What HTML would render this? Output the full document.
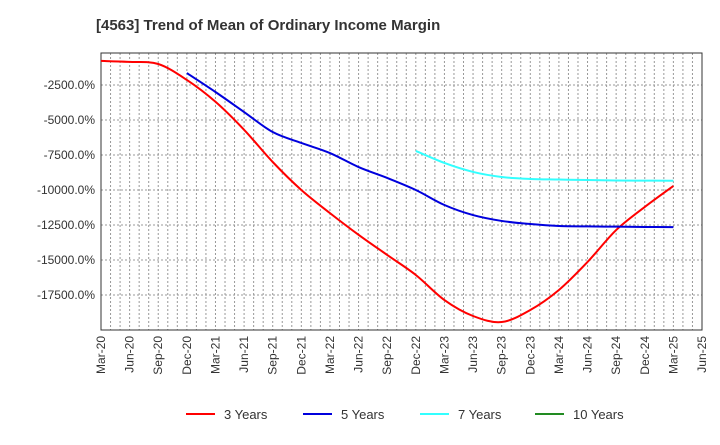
<!DOCTYPE html>
<html><head><meta charset="utf-8"><style>
body{margin:0;background:#fff;font-family:"Liberation Sans",sans-serif}
svg text{font-family:"Liberation Sans",sans-serif}
</style></head><body>
<svg id="c" width="720" height="440">
<text x="96" y="30" font-size="15" font-weight="bold" fill="#333">[4563]  Trend of Mean of Ordinary Income Margin</text>
<g id="grid"></g><g id="axes"></g><g id="series"></g><g id="legend"></g>
</svg>
<script>
const categories=["Mar-20","Jun-20","Sep-20","Dec-20","Mar-21","Jun-21","Sep-21","Dec-21","Mar-22","Jun-22","Sep-22","Dec-22","Mar-23","Jun-23","Sep-23","Dec-23","Mar-24","Jun-24","Sep-24","Dec-24","Mar-25","Jun-25"];
const yTicks=[-2500,-5000,-7500,-10000,-12500,-15000,-17500];
const s3=[-780,-850,-1000,-2140,-3700,-5700,-8000,-10000,-11650,-13200,-14640,-16070,-17860,-19000,-19430,-18570,-17140,-15140,-12860,-11210,-9710,null];
const s5=[null,null,null,-1650,-3000,-4430,-5860,-6640,-7360,-8360,-9140,-10000,-11070,-11790,-12210,-12430,-12570,-12600,-12620,-12640,-12650,null];
const s7=[null,null,null,null,null,null,null,null,null,null,null,-7210,-8070,-8710,-9070,-9210,-9250,-9290,-9320,-9330,-9340,null];
const s10=[];
const L=101,R=702,T=53,B=330;
const x=i=>L+(R-L)*i/(categories.length-1);
const y=v=>50+(-v)/2500*35;
const NS="http://www.w3.org/2000/svg";
function mk(p,t,a){const e=document.createElementNS(NS,t);for(const k in a)e.setAttribute(k,a[k]);p.appendChild(e);return e;}
const g=document.getElementById('grid'),ax=document.getElementById('axes'),se=document.getElementById('series'),lg=document.getElementById('legend');
for(let m=1;m<(categories.length-1)*3;m++){const xx=L+(R-L)*m/((categories.length-1)*3);
const l=mk(g,'line',{x1:xx,x2:xx,y1:T,y2:B,stroke:'#999','stroke-dasharray':'2,2','stroke-width':1});

}
yTicks.forEach(v=>{const l=mk(g,'line',{x1:L,x2:R,y1:y(v),y2:y(v),stroke:'#999','stroke-dasharray':'2,2','stroke-width':1});


const t=mk(ax,'text',{x:L-6,y:y(v)+4,'text-anchor':'end','font-size':12,fill:'#333'});t.textContent=v.toFixed(1)+'%';

});
const fr=mk(ax,'rect',{x:L,y:T,width:R-L,height:B-T,fill:'none',stroke:'#333','stroke-width':1});


categories.forEach((c,i)=>{const t=mk(ax,'text',{transform:`translate(${x(i)+4},${B+6}) rotate(-90)`,'text-anchor':'end','font-size':12,fill:'#333'});t.textContent=c;

});
function line(d,col,name){const pts=[];d.forEach((v,i)=>{if(v!=null)pts.push([x(i),y(v)]);});if(!pts.length)return;
let dd='M'+pts[0][0]+','+pts[0][1];
for(let i=0;i<pts.length-1;i++){const p0=pts[Math.max(0,i-1)],p1=pts[i],p2=pts[i+1],p3=pts[Math.min(pts.length-1,i+2)];
const c1=[p1[0]+(p2[0]-p0[0])/6,p1[1]+(p2[1]-p0[1])/6],c2=[p2[0]-(p3[0]-p1[0])/6,p2[1]-(p3[1]-p1[1])/6];
dd+=` C${c1[0]},${c1[1]} ${c2[0]},${c2[1]} ${p2[0]},${p2[1]}`;}
const p=mk(se,'path',{d:dd,fill:'none',stroke:col,'stroke-width':2,'stroke-linejoin':'round'});

}
line(s3,'#ff0000','series-3-years');line(s5,'#0000dd','series-5-years');line(s7,'#33ffff','series-7-years');line(s10,'#228b22','series-10-years');
[["3 Years","#ff0000",186],["5 Years","#0000dd",303],["7 Years","#33ffff",420],["10 Years","#228b22",535]].forEach(([n,c,lx])=>{
const l=mk(lg,'line',{x1:lx,x2:lx+29,y1:414,y2:414,stroke:c,'stroke-width':2});


const t=mk(lg,'text',{x:lx+38,y:419,'font-size':13,fill:'#333'});t.textContent=n;

});
</script>
</body></html>
